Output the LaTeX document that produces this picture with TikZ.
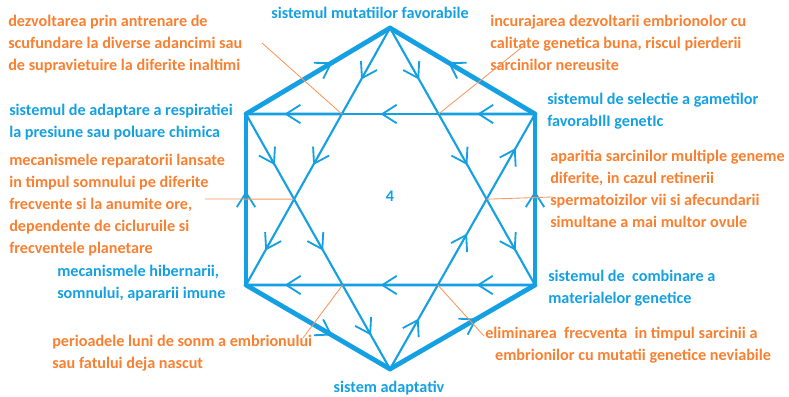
\documentclass[tikz,border=0pt]{standalone}
\usepackage{fontspec}
\setmainfont{Carlito}
\usetikzlibrary{arrows.meta,decorations.markings}
\definecolor{skyblue}{RGB}{20,160,226}
\definecolor{notecol}{RGB}{248,128,48}
\definecolor{leadcol}{RGB}{250,150,90}

\begin{document}
\begin{tikzpicture}[x=0.025cm, y=-0.025cm,
  hexedge/.style={color=skyblue, line width=3.4pt, line cap=round},
  sideedge/.style={color=skyblue, line width=2.8pt, line cap=round},
  rail/.style={color=skyblue, line width=1.9pt},
  beam/.style={color=skyblue, line width=1.5pt},
  lead/.style={draw=leadcol, line width=0.6pt},
  midarrow/.style={postaction={decorate}, decoration={markings,
      mark=at position #1 with {\arrow{Straight Barb[length=3.6mm, width=4.6mm, line width=1.3pt]}}}},
  midarrow/.default=0.6,
  note/.style={anchor=base west, inner sep=0pt, align=left, text=notecol,
               font=\fontsize{11.5}{15.6}\selectfont\bfseries},
  sys/.style={note, text=skyblue}
]
\useasboundingbox (0,0) rectangle (789,396);

\coordinate (T) at (390,28);
\coordinate (UR) at (535,114);
\coordinate (LR) at (535,285);
\coordinate (B) at (390,369);
\coordinate (LL) at (246,285);
\coordinate (UL) at (246,114);

\coordinate (cTL) at (intersection of T--LL and UL--UR);
\coordinate (cTR) at (intersection of T--LR and UL--UR);
\coordinate (cL) at (intersection of T--LL and UL--B);
\coordinate (cR) at (intersection of T--LR and UR--B);
\coordinate (cBL) at (intersection of UL--B and LL--LR);
\coordinate (cBR) at (intersection of UR--B and LL--LR);

\foreach \a/\b in {T/cTL, cTL/cL, cL/LL, T/cTR, cTR/cR, cR/LR,
                   UL/cL, cL/cBL, cBL/B, B/cBR, cBR/cR, cR/UR}
  \draw[beam, midarrow] (\a) -- (\b);
\foreach \a/\b in {UR/cTR, cTR/cTL, cTL/UL, LR/cBR, cBR/cBL, cBL/LL}
  \draw[rail, midarrow=0.6] (\a) -- (\b);
\draw[sideedge, midarrow=0.55] (LL) -- (UL);
\draw[sideedge, midarrow=0.55] (LR) -- (UR);
\draw[hexedge, midarrow=0.6] (UL) -- (T);
\draw[hexedge, midarrow=0.6] (UR) -- (T);
\draw[hexedge, midarrow=0.6] (LL) -- (B);
\draw[hexedge, midarrow=0.6] (B) -- (LR);

\node[sys, anchor=base] (mutatii) at (370,18) {sistemul mutatiilor favorabile};
\node[sys] (selectie) at (547,126) {sistemul de selectie a gametilor\\favorabIlI genetIc};
\node[sys] (respiratie) at (9,137) {sistemul de adaptare a respiratiei\\la presiune sau poluare chimica};
\node[sys] (hibernare) at (57,298) {mecanismele hibernarii,\\somnului, apararii imune};
\node[sys] (combinare) at (548,303) {sistemul de\ \ combinare a\\materialelor genetice};
\node[sys, anchor=base] (adaptativ) at (389,392) {sistem adaptativ};
\node[sys, anchor=base] (centru) at (390,201) {4};

\node[note] (antrenare) at (8,70) {dezvoltarea prin antrenare de\\scufundare la diverse adancimi sau\\de supravietuire la diferite inaltimi};
\node[note] (embrioni) at (490,70) {incurajarea dezvoltarii embrionolor cu\\calitate genetica buna, riscul pierderii\\sarcinilor nereusite};
\node[note] (somn) at (9,253) {mecanismele reparatorii lansate\\in timpul somnului pe diferite\\frecvente si la anumite ore,\\dependente de cicluruile si\\frecventele planetare};
\node[note] (sarcini) at (550,227) {aparitia sarcinilor multiple geneme\\diferite, in cazul retinerii\\spermatoizilor vii si afecundarii\\simultane a mai multor ovule};
\node[note] (perioade) at (52,368) {perioadele luni de sonm a embrionului\\sau fatului deja nascut};
\node[note] (eliminare) at (485,360) {eliminarea\ \ frecventa\ \ in timpul sarcinii a\\\hspace*{7pt}embrionilor cu mutatii genetice neviabile};

\coordinate (l1) at (262,43);
\coordinate (l2) at (521,48);
\coordinate (l3) at (205,199);
\coordinate (l4) at (552,197);
\coordinate (l5) at (303,338);
\coordinate (l6) at (484,336);
\draw[lead] (l1) -- (cTL);
\draw[lead] (l2) -- (cTR);
\draw[lead] (l3) -- (cL);
\draw[lead] (cR) -- (l4);
\draw[lead] (l5) -- (cBL);
\draw[lead] (cBR) -- (l6);
\end{tikzpicture}
\end{document}
